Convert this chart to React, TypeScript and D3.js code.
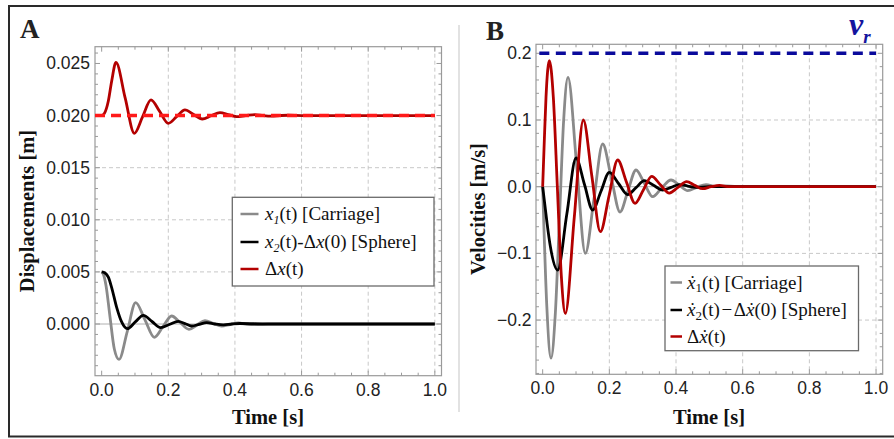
import React from 'react';
import * as d3 from 'd3';

type P = [number, number];

// ---------- tick labels ----------
const timeTicks = [0, 0.2, 0.4, 0.6, 0.8, 1.0];
const timeTickLabels = ['0.0', '0.2', '0.4', '0.6', '0.8', '1.0'];
const dispTicks = [0, 0.005, 0.01, 0.015, 0.02, 0.025];
const dispTickLabels = ['0.000', '0.005', '0.010', '0.015', '0.020', '0.025'];
const velTicks = [-0.2, -0.1, 0, 0.1, 0.2];
const velTickLabels = ['\u22120.2', '\u22120.1', '0.0', '0.1', '0.2'];

// ---------- panel A: displacements ----------
const x1Disp: P[] = [
  [0, 0.005], [0.006, 0.0047], [0.013, 0.0037], [0.025, 0.0007], [0.038, -0.0024], [0.052, -0.0034],
  [0.077, -0.0007], [0.102, 0.00205], [0.13, 0.0004], [0.158, -0.00128], [0.184, -0.00025],
  [0.21, 0.00077], [0.236, 0.00013], [0.262, -0.00051], [0.286, -0.0001], [0.31, 0.00032],
  [0.335, 0.00006], [0.36, -0.0002], [0.385, -0.00005], [0.41, 0.0001], [0.435, 0.0],
  [0.46, -0.00005], [0.5, 0], [1.0, 0],
];
const x2Disp: P[] = [
  [0, 0.005], [0.01, 0.0049], [0.02, 0.0045], [0.03, 0.0035], [0.045, 0.0016], [0.06, 0.0002],
  [0.077, -0.00045], [0.101, 0.0002], [0.125, 0.00083], [0.151, 0.00024], [0.177, -0.00035],
  [0.203, -0.00005], [0.23, 0.00026], [0.25, 0.00004], [0.27, -0.00019], [0.293, -0.00003],
  [0.315, 0.00013], [0.34, 0], [0.365, -0.00008], [0.39, 0], [0.415, 0.00005], [0.5, 0], [1.0, 0],
];
const dxDisp: P[] = [
  [0, 0.02], [0.008, 0.0202], [0.02, 0.0214], [0.03, 0.0233], [0.043, 0.0251], [0.0705, 0.0217],
  [0.098, 0.0183], [0.123, 0.0199], [0.148, 0.0215], [0.174, 0.0204], [0.2, 0.01926],
  [0.225, 0.0199], [0.25, 0.02054], [0.276, 0.0201], [0.302, 0.01967], [0.328, 0.01998],
  [0.355, 0.02028], [0.38, 0.0201], [0.405, 0.0199], [0.432, 0.02], [0.46, 0.0201],
  [0.485, 0.02], [0.51, 0.01995], [0.535, 0.02], [0.56, 0.02003], [0.6, 0.02], [1.0, 0.02],
];
const dxEquilibrium = 0.02;

// ---------- panel B: velocities ----------
const x1Vel: P[] = [
  [0, 0], [0.0125, -0.18], [0.025, -0.257], [0.038, -0.19], [0.0505, -0.046], [0.063, 0.1],
  [0.076, 0.164], [0.102, 0.032], [0.128, -0.1], [0.154, -0.018], [0.18, 0.064], [0.206, 0.013],
  [0.232, -0.038], [0.256, -0.006], [0.28, 0.025], [0.305, 0.005], [0.33, -0.015], [0.357, -0.002],
  [0.385, 0.01], [0.41, 0.002], [0.435, -0.006], [0.462, -0.001], [0.49, 0.003], [0.52, 0],
  [0.55, 0.001], [0.6, 0], [1.0, 0],
];
const x2Vel: P[] = [
  [0, 0], [0.012, -0.05], [0.0225, -0.088], [0.045, -0.125], [0.0725, -0.041], [0.1, 0.043],
  [0.125, 0.004], [0.15, -0.035], [0.175, -0.0068], [0.2, 0.0215], [0.2275, 0.0048],
  [0.255, -0.012], [0.28, -0.0015], [0.305, 0.009], [0.3325, 0.002], [0.36, -0.005],
  [0.385, -0.001], [0.41, 0.003], [0.435, 0.001], [0.46, -0.001], [0.5, 0], [1.0, 0],
];
const dxVel: P[] = [
  [0, 0], [0.005, 0.07], [0.01, 0.134], [0.02, 0.189], [0.032, 0.134], [0.044, 0.0],
  [0.056, -0.134], [0.068, -0.19], [0.095, -0.045], [0.122, 0.1], [0.1475, 0.016],
  [0.173, -0.0675], [0.199, -0.014], [0.225, 0.04], [0.251, 0.0075], [0.277, -0.025],
  [0.302, -0.005], [0.327, 0.0155], [0.353, 0.003], [0.38, -0.0095], [0.406, -0.001],
  [0.432, 0.0075], [0.456, 0.002], [0.48, -0.003], [0.505, 0], [0.53, 0.002], [0.56, 0], [1.0, 0],
];
const relativeVelocity = 0.2;

const GRAY = '#8a8a8a';
const BLACK = '#000000';
const DARKRED = '#b30000';
const FRAME = '#9a9a9a';
const GRID = '#c8c8c8';
const SERIF = '"Liberation Serif", "Times New Roman", serif';
const SANS = '"Liberation Sans", Arial, sans-serif';
const TICK_FS = 17.5;
const TITLE_FS = 20.5;
const LEG_FS = 19;

interface PanelProps {
  left: number; right: number; top: number; bottom: number;
  yDomain: [number, number];
  yTicks: number[]; yLabels: string[];
  yMinorStep: number;
  gridY: number[];
  labelRight: number;
  clipId: string;
  children: (x: d3.ScaleLinear<number, number>, y: d3.ScaleLinear<number, number>) => React.ReactNode;
}

function Panel(p: PanelProps) {
  const x = d3.scaleLinear().domain([-0.02, 1.02]).range([p.left, p.right]);
  const y = d3.scaleLinear().domain(p.yDomain).range([p.bottom, p.top]);
  const xMinor = d3.range(0, 1.0001, 0.05).filter((v) => !timeTicks.some((t) => Math.abs(t - v) < 1e-6));
  const yMinor = d3
    .range(Math.ceil(p.yDomain[0] / p.yMinorStep) * p.yMinorStep, p.yDomain[1], p.yMinorStep)
    .filter((v) => !p.yTicks.some((t) => Math.abs(t - v) < p.yMinorStep / 10));
  const MJ = 5, MN = 3;
  return (
    <g>
      <defs>
        <clipPath id={p.clipId}>
          <rect x={p.left} y={p.top} width={p.right - p.left} height={p.bottom - p.top} />
        </clipPath>
      </defs>
      <rect x={p.left} y={p.top} width={p.right - p.left} height={p.bottom - p.top} fill="white" />
      {timeTicks.filter((t) => t > 0).map((t) => (
        <line key={'gx' + t} x1={x(t)} x2={x(t)} y1={p.top} y2={p.bottom} stroke={GRID} strokeDasharray="4,3" strokeWidth={1} />
      ))}
      {p.gridY.map((v) => (
        <line key={'gy' + v} x1={p.left} x2={p.right} y1={y(v)} y2={y(v)} stroke={GRID} strokeDasharray="4,3" strokeWidth={1} />
      ))}
      <line x1={p.left} x2={p.right} y1={y(0)} y2={y(0)} stroke="#b0b0b0" strokeWidth={1} />
      <rect x={p.left} y={p.top} width={p.right - p.left} height={p.bottom - p.top} fill="none" stroke={FRAME} strokeWidth={1.2} />
      {timeTicks.map((t) => (
        <g key={'tx' + t}>
          <line x1={x(t)} x2={x(t)} y1={p.bottom} y2={p.bottom - MJ} stroke={FRAME} />
          <line x1={x(t)} x2={x(t)} y1={p.top} y2={p.top + MJ} stroke={FRAME} />
        </g>
      ))}
      {xMinor.map((t) => (
        <g key={'mx' + t}>
          <line x1={x(t)} x2={x(t)} y1={p.bottom} y2={p.bottom - MN} stroke={FRAME} />
          <line x1={x(t)} x2={x(t)} y1={p.top} y2={p.top + MN} stroke={FRAME} />
        </g>
      ))}
      {p.yTicks.map((v) => (
        <g key={'ty' + v}>
          <line x1={p.left} x2={p.left + MJ} y1={y(v)} y2={y(v)} stroke={FRAME} />
          <line x1={p.right} x2={p.right - MJ} y1={y(v)} y2={y(v)} stroke={FRAME} />
        </g>
      ))}
      {yMinor.map((v) => (
        <g key={'my' + v}>
          <line x1={p.left} x2={p.left + MN} y1={y(v)} y2={y(v)} stroke={FRAME} />
          <line x1={p.right} x2={p.right - MN} y1={y(v)} y2={y(v)} stroke={FRAME} />
        </g>
      ))}
      {timeTicks.map((t, i) => (
        <text key={'lx' + t} x={x(t)} y={p.bottom + 20} textAnchor="middle" fontFamily={SANS} fontSize={TICK_FS} fill="#222">
          {timeTickLabels[i]}
        </text>
      ))}
      {p.yTicks.map((v, i) => (
        <text key={'ly' + v} x={p.labelRight} y={y(v) + 6} textAnchor="end" fontFamily={SANS} fontSize={TICK_FS} fill="#222">
          {p.yLabels[i]}
        </text>
      ))}
      <g clipPath={`url(#${p.clipId})`}>{p.children(x, y)}</g>
    </g>
  );
}

function curve(x: d3.ScaleLinear<number, number>, y: d3.ScaleLinear<number, number>, data: P[]) {
  return d3
    .line<P>()
    .x((d) => x(d[0]))
    .y((d) => y(d[1]))
    .curve(d3.curveMonotoneX)(data) as string;
}

export default function App() {
  return (
    <svg width={894} height={439} style={{ position: 'absolute', left: 0, top: 0, background: 'white' }}>
      <rect width={894} height={439} fill="white" />
      <path d="M 900 6 H 9 V 436.5 H 900" fill="none" stroke="#2a2a2a" strokeWidth={2} />
      <line x1={459} x2={459} y1={25} y2={412} stroke="#e2e2e2" strokeWidth={2} />

      {/* Panel A */}
      <text x={20} y={38} fontFamily={SERIF} fontWeight="bold" fontSize={27} fill="#222">A</text>
      <Panel
        left={95} right={441.5} top={46.7} bottom={375.7}
        yDomain={[-0.00496, 0.02661]}
        yTicks={dispTicks} yLabels={dispTickLabels} yMinorStep={0.001}
        gridY={[0.005, 0.01, 0.015]}
        labelRight={90} clipId="clipA"
      >
        {(x, y) => (
          <g>
            <path d={curve(x, y, x1Disp)} fill="none" stroke={GRAY} strokeWidth={2.8} />
            <path d={curve(x, y, x2Disp)} fill="none" stroke={BLACK} strokeWidth={2.8} />
            <path d={curve(x, y, dxDisp)} fill="none" stroke={DARKRED} strokeWidth={2.8} />
            <line x1={x(-0.02)} x2={x(1.0)} y1={y(dxEquilibrium)} y2={y(dxEquilibrium)} stroke="#ff1a1a" strokeWidth={3.5} strokeDasharray="10,6" />
          </g>
        )}
      </Panel>
      <text transform="translate(34,211) rotate(-90)" textAnchor="middle" fontFamily={SERIF} fontWeight="bold" fontSize={TITLE_FS} fill="#111">
        Displacements [m]
      </text>
      <text x={268} y={424} textAnchor="middle" fontFamily={SERIF} fontWeight="bold" fontSize={TITLE_FS} fill="#111">Time [s]</text>

      {/* Legend A */}
      <g fontFamily={SERIF} fontSize={LEG_FS} fill="#111">
        <rect x={232.3} y={197.3} width={201.7} height={88.7} fill="white" stroke="#6a6a6a" strokeWidth={1.3} />
        <line x1={240.5} x2={258.5} y1={214} y2={214} stroke={GRAY} strokeWidth={2.5} />
        <line x1={240.5} x2={258.5} y1={242} y2={242} stroke={BLACK} strokeWidth={2.5} />
        <line x1={240.5} x2={258.5} y1={269} y2={269} stroke={DARKRED} strokeWidth={2.5} />
        <text x={265} y={220}>
          <tspan fontStyle="italic">x</tspan>
          <tspan fontStyle="italic" fontSize={12} dy={4}>1</tspan>
          <tspan dy={-4}>(t) [Carriage]</tspan>
        </text>
        <text x={265} y={248}>
          <tspan fontStyle="italic">x</tspan>
          <tspan fontStyle="italic" fontSize={12} dy={4}>2</tspan>
          <tspan dy={-4}>(t)-Δ</tspan>
          <tspan fontStyle="italic">x</tspan>
          <tspan>(0) [Sphere]</tspan>
        </text>
        <text x={265} y={275}>
          <tspan>Δ</tspan>
          <tspan fontStyle="italic">x</tspan>
          <tspan>(t)</tspan>
        </text>
      </g>

      {/* Panel B */}
      <text x={486} y={40} fontFamily={SERIF} fontWeight="bold" fontSize={27} fill="#222">B</text>
      <Panel
        left={536} right={882.7} top={44.3} bottom={374.3}
        yDomain={[-0.2813, 0.2135]}
        yTicks={velTicks} yLabels={velTickLabels} yMinorStep={0.02}
        gridY={[-0.2, -0.1, 0.1]}
        labelRight={531.5} clipId="clipB"
      >
        {(x, y) => (
          <g>
            <path d={curve(x, y, x1Vel)} fill="none" stroke={GRAY} strokeWidth={2.8} />
            <path d={curve(x, y, x2Vel)} fill="none" stroke={BLACK} strokeWidth={2.8} />
            <path d={curve(x, y, dxVel)} fill="none" stroke={DARKRED} strokeWidth={2.8} />
            <line x1={x(-0.01)} x2={x(1.0)} y1={y(relativeVelocity)} y2={y(relativeVelocity)} stroke="#0a0a9c" strokeWidth={3.5} strokeDasharray="10,6.5" />
          </g>
        )}
      </Panel>
      <text x={849} y={35} fontFamily={SERIF} fontStyle="italic" fontWeight="bold" fontSize={32} fill="#14149e">
        v<tspan fontSize={19} dy={8}>r</tspan>
      </text>
      <text transform="translate(485,209) rotate(-90)" textAnchor="middle" fontFamily={SERIF} fontWeight="bold" fontSize={TITLE_FS} fill="#111">
        Velocities [m/s]
      </text>
      <text x={709} y={424} textAnchor="middle" fontFamily={SERIF} fontWeight="bold" fontSize={TITLE_FS} fill="#111">Time [s]</text>

      {/* Legend B */}
      <g fontFamily={SERIF} fontSize={LEG_FS} fill="#111">
        <rect x={665} y={266} width={193.5} height={84.7} fill="white" stroke="#6a6a6a" strokeWidth={1.3} />
        <line x1={670.5} x2={682} y1={282.5} y2={282.5} stroke={GRAY} strokeWidth={2.5} />
        <line x1={670.5} x2={682} y1={310} y2={310} stroke={BLACK} strokeWidth={2.5} />
        <line x1={670.5} x2={682} y1={336.5} y2={336.5} stroke={DARKRED} strokeWidth={2.5} />
        <text x={687} y={288.5}>
          <tspan fontStyle="italic">ẋ</tspan>
          <tspan fontSize={13} dy={3.5}>1</tspan>
          <tspan dy={-3.5}>(t) [Carriage]</tspan>
        </text>
        <text x={687} y={316}>
          <tspan fontStyle="italic">ẋ</tspan>
          <tspan fontSize={13} dy={3.5}>2</tspan>
          <tspan dy={-3.5}>(t)&#8202;−&#8202;Δ</tspan>
          <tspan fontStyle="italic">ẋ</tspan>
          <tspan>(0) [Sphere]</tspan>
        </text>
        <text x={687} y={342.5}>
          <tspan>Δ</tspan>
          <tspan fontStyle="italic">ẋ</tspan>
          <tspan>(t)</tspan>
        </text>
      </g>
    </svg>
  );
}
